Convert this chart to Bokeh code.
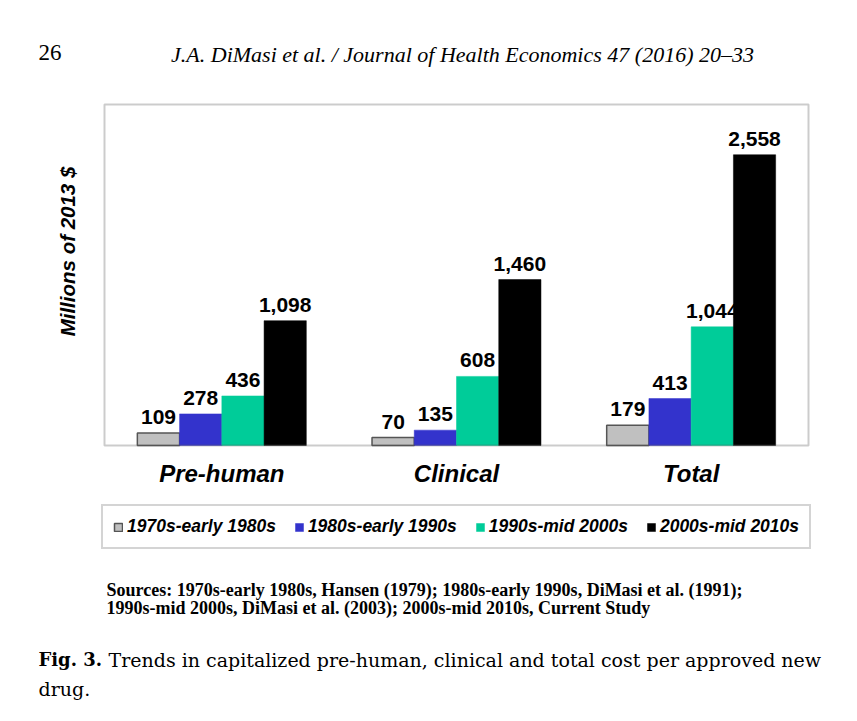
from bokeh.plotting import figure
from bokeh.models import Range1d, Legend, LegendItem, ColumnDataSource, Label, BoxAnnotation
from bokeh.embed import file_html
from bokeh.resources import INLINE
from bokeh.core.properties import value
import math

categories = ["Pre-human", "Clinical", "Total"]
series = ["1970s-early 1980s", "1980s-early 1990s", "1990s-mid 2000s", "2000s-mid 2010s"]
values = {
    "1970s-early 1980s": [109, 70, 179],
    "1980s-early 1990s": [278, 135, 413],
    "1990s-mid 2000s": [436, 608, 1044],
    "2000s-mid 2010s": [1098, 1460, 2558],
}
colors = ["#c0c0c0", "#3333cc", "#00cc99", "#000000"]
outlines = ["#555555", None, None, None]
y_max = 3000
y_label = "Millions of 2013 $"
header_page = "26"
header_journal = "J.A. DiMasi et al. / Journal of Health Economics 47 (2016) 20\u201333"
sources = ["Sources:  1970s-early 1980s, Hansen (1979); 1980s-early 1990s, DiMasi et al. (1991);",
           "1990s-mid 2000s,  DiMasi  et al.  (2003); 2000s-mid 2010s, Current Study"]
caption_bold = "Fig. 3."
caption_lines = ["Trends in capitalized pre-human, clinical and total cost per approved new", "drug."]

W, H = 841, 705
SANS = "Liberation Sans"
# chart box in canvas pixels
box_l, box_r, box_t, box_b = 104, 808, 104, 445
n = len(categories)
xu = (box_r - box_l) / n
yu = (box_b - box_t) / y_max
x_range = Range1d(-0.5 - box_l / xu, n - 0.5 + (W - box_r) / xu)
y_range = Range1d(-(H - box_b) / yu, y_max + box_t / yu)

p = figure(width=W, height=H, output_backend="svg", toolbar_location=None,
           x_range=x_range, y_range=y_range, min_border=0)
p.axis.visible = False
p.grid.visible = False
p.outline_line_color = None
p.background_fill_color = "white"
p.border_fill_color = "white"

# chart frame
p.add_layout(BoxAnnotation(left=-0.5, right=n - 0.5, bottom=0, top=y_max,
                           fill_alpha=0, line_color="#555555", line_width=2))

bw = 0.18
renderers = []
for i, s in enumerate(series):
    xs = [g + (i - 1.5) * bw for g in range(n)]
    src = ColumnDataSource(dict(x=xs, top=values[s], lab=[f"{v:,}" for v in values[s]]))
    r = p.vbar(x="x", top="top", bottom=0, width=bw, source=src,
               fill_color=colors[i], line_color=outlines[i] if outlines[i] else colors[i],
               line_width=1.5 if outlines[i] else 0.5)
    renderers.append(r)
    p.text(x="x", y="top", text="lab", source=src, text_align="center", text_baseline="bottom",
           y_offset=-9, text_font=value(SANS), text_font_style="bold",
           text_font_size="21px", text_color="black")

# category labels under the chart
p.text(x=list(range(n)), y=[0] * n, text=categories, text_align="center", text_baseline="middle",
       y_offset=28, text_font=value(SANS), text_font_style="bold italic",
       text_font_size="24px", text_color="black")

legend = Legend(items=[LegendItem(label=s, renderers=[r]) for s, r in zip(series, renderers)],
                orientation="horizontal", location=(101, H - 549))
legend.label_text_font = SANS
legend.label_text_font_style = "bold italic"
legend.label_text_font_size = "17.5px"
legend.label_text_color = "black"
legend.label_height = 12
legend.glyph_width = 10
legend.glyph_height = 10
legend.label_standoff = 4
legend.spacing = 18
legend.padding = 10
legend.margin = 0
legend.border_line_color = "#aaaaaa"
legend.border_line_width = 2
legend.background_fill_color = "white"
legend.background_fill_alpha = 1
p.add_layout(legend, "center")


def lab(text, X, Y, font, size, style="normal", align="left", angle=0):
    p.add_layout(Label(x=X, y=H - Y, x_units="screen", y_units="screen", text=text,
                       text_font=font, text_font_size=size, text_font_style=style,
                       text_align=align, text_baseline="middle", angle=angle, text_color="black"))


lab(y_label, 67, 251, SANS, "20.5px", "bold italic", "center", math.pi / 2)
lab(header_page, 38, 52, "Liberation Serif", "23px")
lab(header_journal, 462, 54, "Liberation Serif", "22px", "italic", "center")
lab(sources[0], 106, 589, "Liberation Serif", "18px", "bold")
lab(sources[1], 106, 607, "Liberation Serif", "18px", "bold")
lab(caption_bold, 38, 659, "DejaVu Serif", "18px", "bold")
lab(caption_lines[0], 108, 659, "DejaVu Serif", "19px")
lab(caption_lines[1], 38, 688, "DejaVu Serif", "19px")

open("out.html", "w").write(file_html(p, INLINE))
